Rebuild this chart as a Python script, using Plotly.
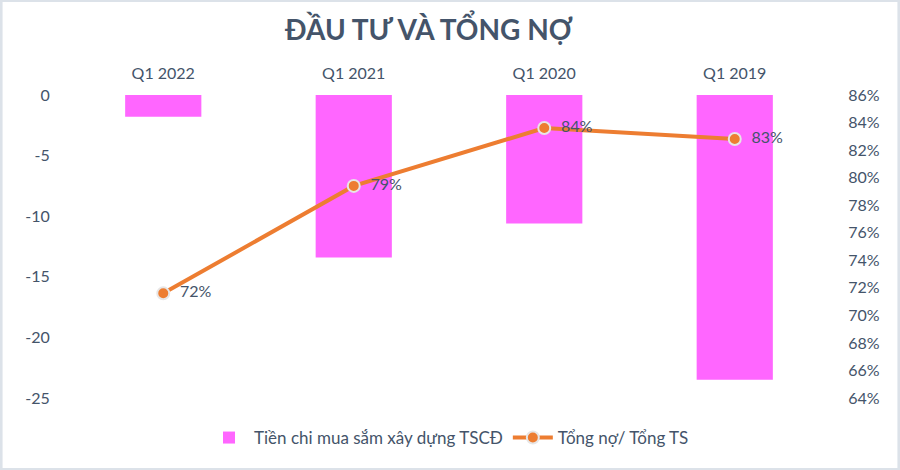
import plotly.graph_objects as go

categories = ["Q1 2022", "Q1 2021", "Q1 2020", "Q1 2019"]
capex = [-1.8, -13.4, -10.6, -23.5]
debt_ratio = [0.716, 0.794, 0.836, 0.828]
left_ticks = [0, -5, -10, -15, -20, -25]
left_tick_text = ["0", "-5", "-10", "-15", "-20", "-25"]

W, H = 900, 470
L, R, T, B = 67.5, 69.5, 95, 72

fig = go.Figure()
fig.add_trace(go.Bar(
    x=categories, y=capex, name="Tiền chi mua sắm xây dựng TSCĐ",
    marker=dict(color="#FF66FF", line=dict(width=0)), width=0.4,
    yaxis="y",
))
fig.add_trace(go.Scatter(
    x=categories, y=debt_ratio, name="Tổng nợ/ Tổng TS",
    mode="lines+markers+text",
    line=dict(color="#ED7D31", width=4),
    marker=dict(size=12, color="#ED7D31", line=dict(color="#E7E6E6", width=2)),
    texttemplate="\u00a0\u00a0%{y:.0%}", textposition="middle right",
    textfont=dict(family="Lato", size=16, color="#44546A"),
    yaxis="y2",
))

font = dict(family="Lato", size=16, color="#44546A")
pw = W - L - R
ph = H - T - B
fig.update_layout(
    width=W, height=H,
    margin=dict(l=L, r=R, t=T, b=B),
    paper_bgcolor="#DCE2E9", plot_bgcolor="rgba(0,0,0,0)",
    font=font,
    title=dict(text="<b>ĐẦU TƯ VÀ TỔNG NỢ</b>", x=429 / W, xref="container", xanchor="center",
               y=1 - 30 / H, yref="container", yanchor="middle",
               font=dict(family="Lato", size=28, color="#44546A")),
    xaxis=dict(side="top", showgrid=False, showline=False, zeroline=False,
               ticks="outside", ticklen=2, tickcolor="rgba(0,0,0,0)",
               ticklabelstandoff=7, tickfont=font),
    yaxis=dict(range=[-25, 0], tickvals=left_ticks, ticktext=left_tick_text,
               showgrid=False, zeroline=False, showline=False,
               ticks="outside", ticklen=14, tickcolor="rgba(0,0,0,0)", tickfont=font),
    yaxis2=dict(range=[0.64, 0.86], dtick=0.02, tickformat=".0%", overlaying="y", side="right",
                showgrid=False, zeroline=False, showline=False,
                ticks="outside", ticklen=14, tickcolor="rgba(0,0,0,0)", tickfont=font),
    legend=dict(orientation="h", x=0.5, xanchor="center", y=-40 / ph, yanchor="middle",
                font=dict(family="Lato", size=17, color="#44546A"), bgcolor="rgba(0,0,0,0)",
                itemwidth=40),
    showlegend=True,
    shapes=[dict(type="rect", xref="paper", yref="paper", layer="below",
                 x0=(2 - L) / pw, x1=(W - 2 - L) / pw,
                 y0=-(B - 2) / ph, y1=1 + (T - 2) / ph,
                 fillcolor="white", line=dict(width=0))],
)

fig.write_html("out.html", config={"displayModeBar": False},
               post_script="document.body.style.margin='0';document.body.style.overflow='hidden';")
